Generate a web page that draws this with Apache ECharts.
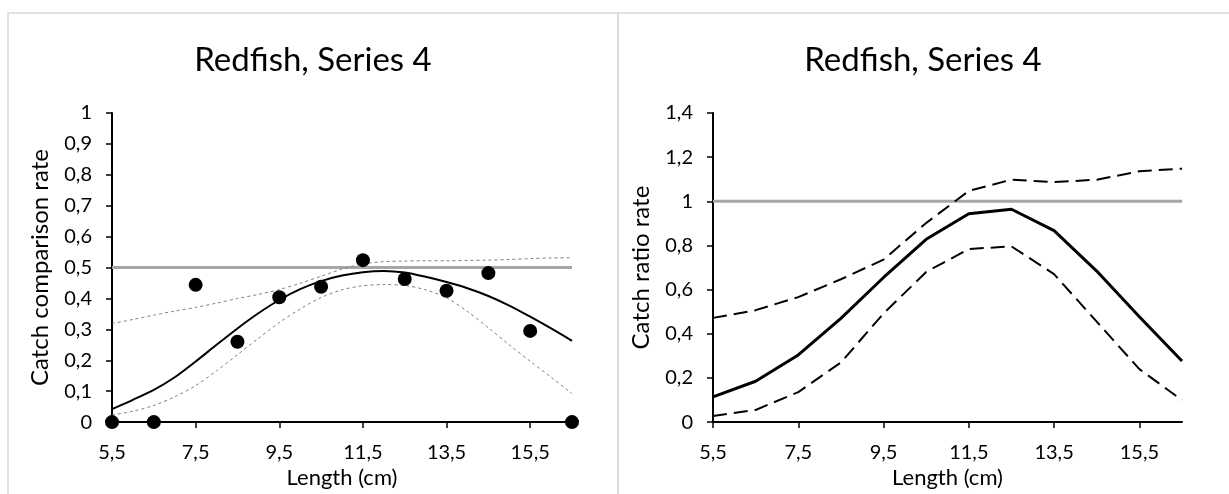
<!DOCTYPE html>
<html>
<head>
<meta charset="utf-8">
<script src="https://cdn.jsdelivr.net/npm/echarts@6/dist/echarts.min.js"></script>
<style>
  html, body { margin: 0; padding: 0; background: #ffffff; }
  #chart { width: 1229px; height: 494px; }
</style>
</head>
<body>
<div id="chart"></div>
<script>
// Left panel: fitted catch comparison curve with confidence band, on a half-cm grid
const lengthsFine = [5.5, 6.0, 6.5, 7.0, 7.5, 8.0, 8.5, 9.0, 9.5, 10.0, 10.5, 11.0,
                     11.5, 12.0, 12.5, 13.0, 13.5, 14.0, 14.5, 15.0, 15.5, 16.0, 16.5];
const fitComparison = [0.042, 0.072, 0.104, 0.145, 0.196, 0.250, 0.303, 0.352, 0.395, 0.430, 0.456, 0.474,
                       0.485, 0.489, 0.484, 0.470, 0.453, 0.433, 0.408, 0.377, 0.341, 0.303, 0.263];
const upperComparison = [0.319, 0.332, 0.346, 0.359, 0.371, 0.385, 0.400, 0.413, 0.429, 0.449, 0.472, 0.495,
                         0.512, 0.519, 0.521, 0.522, 0.522, 0.523, 0.524, 0.526, 0.529, 0.531, 0.532];
const lowerComparison = [0.023, 0.035, 0.054, 0.082, 0.118, 0.166, 0.218, 0.271, 0.322, 0.366, 0.403, 0.428,
                         0.441, 0.445, 0.442, 0.428, 0.402, 0.358, 0.305, 0.250, 0.197, 0.145, 0.092];

// Observed comparison rates and the modelled catch ratio, per 1 cm length class
const lengths = [5.5, 6.5, 7.5, 8.5, 9.5, 10.5, 11.5, 12.5, 13.5, 14.5, 15.5, 16.5];
const observedComparison = [0, 0, 0.444, 0.260, 0.404, 0.438, 0.524, 0.463, 0.425, 0.482, 0.295, 0];
const catchRatio = [0.114, 0.185, 0.304, 0.470, 0.655, 0.828, 0.944, 0.964, 0.867, 0.684, 0.477, 0.277];
const upperRatio = [0.472, 0.507, 0.566, 0.647, 0.736, 0.902, 1.047, 1.098, 1.087, 1.098, 1.136, 1.148];
const lowerRatio = [0.028, 0.055, 0.136, 0.270, 0.492, 0.680, 0.784, 0.796, 0.670, 0.455, 0.240, 0.099];

// Reference levels (equal catch) spanning the length range
const refLengths = [5.5, 16.5];
const refComparison = [0.5, 0.5];
const refRatio = [1, 1];

const xTicks = [5.5, 7.5, 9.5, 11.5, 13.5, 15.5];
const panelTitle = 'Redfish, Series 4';

const FONT = 'Lato, "Open Sans", sans-serif';
const fmt = v => String(+Number(v).toFixed(2)).replace('.', ',');
const pairs = (xs, ys) => xs.map((x, i) => [x, ys[i]]);

const chart = echarts.init(document.getElementById('chart'), null, { renderer: 'canvas' });

function xAxisDef(gridIndex) {
  return {
    gridIndex,
    type: 'value',
    min: 5.5,
    max: 16.5,
    splitLine: { show: false },
    axisLine: { show: true, onZero: false, lineStyle: { color: '#000', width: 2 } },
    axisTick: { show: true, customValues: xTicks, length: 6, lineStyle: { color: '#000', width: 1.5 } },
    axisLabel: { customValues: xTicks, formatter: fmt, fontSize: 20, color: '#000', margin: 20, fontFamily: FONT },
    name: 'Length (cm)',
    nameLocation: 'middle',
    nameGap: 36,
    nameTextStyle: { fontSize: 22, color: '#000', fontFamily: FONT }
  };
}

function yAxisDef(gridIndex, max, interval, name) {
  return {
    gridIndex,
    type: 'value',
    min: 0,
    max,
    interval,
    splitLine: { show: false },
    axisLine: { show: true, onZero: false, lineStyle: { color: '#000', width: 2 } },
    axisTick: { show: true, length: 6, lineStyle: { color: '#000', width: 1.5 } },
    axisLabel: { formatter: fmt, fontSize: 20, color: '#000', margin: 20, fontFamily: FONT },
    name,
    nameLocation: 'middle',
    nameGap: 60,
    nameRotate: 90,
    nameTextStyle: { fontSize: 24, color: '#000', fontFamily: FONT }
  };
}

const lineBase = { type: 'line', symbol: 'none', silent: true, animation: false };

const option = {
  animation: false,
  backgroundColor: '#ffffff',
  grid: [
    { left: 112, top: 113, width: 460, height: 316 },
    { left: 713, top: 113, width: 469, height: 316 }
  ],
  xAxis: [xAxisDef(0), xAxisDef(1)],
  yAxis: [
    yAxisDef(0, 1, 0.1, 'Catch comparison rate'),
    yAxisDef(1, 1.4, 0.2, 'Catch ratio rate')
  ],
  graphic: [
    { type: 'rect', shape: { x: 8, y: 13, width: 610, height: 520 }, style: { fill: 'none', stroke: '#d9d9d9', lineWidth: 1.5 }, silent: true, z: -10 },
    { type: 'rect', shape: { x: 618, y: 13, width: 640, height: 520 }, style: { fill: 'none', stroke: '#d9d9d9', lineWidth: 1.5 }, silent: true, z: -10 },
    { type: 'text', x: 313, y: 60, style: { text: panelTitle, font: '33px ' + FONT, fill: '#000', textAlign: 'center', textVerticalAlign: 'middle' }, silent: true },
    { type: 'text', x: 923, y: 60, style: { text: panelTitle, font: '33px ' + FONT, fill: '#000', textAlign: 'center', textVerticalAlign: 'middle' }, silent: true }
  ],
  series: [
    // Left panel
    Object.assign({}, lineBase, { xAxisIndex: 0, yAxisIndex: 0, z: 1, data: pairs(refLengths, refComparison),
      lineStyle: { color: '#a6a6a6', width: 3 } }),
    Object.assign({}, lineBase, { xAxisIndex: 0, yAxisIndex: 0, z: 2, smooth: 0.3, data: pairs(lengthsFine, upperComparison),
      lineStyle: { color: '#7f7f7f', width: 1, type: [3, 3] } }),
    Object.assign({}, lineBase, { xAxisIndex: 0, yAxisIndex: 0, z: 2, smooth: 0.3, data: pairs(lengthsFine, lowerComparison),
      lineStyle: { color: '#7f7f7f', width: 1, type: [3, 3] } }),
    Object.assign({}, lineBase, { xAxisIndex: 0, yAxisIndex: 0, z: 3, smooth: 0.3, data: pairs(lengthsFine, fitComparison),
      lineStyle: { color: '#000', width: 2 } }),
    { type: 'scatter', xAxisIndex: 0, yAxisIndex: 0, z: 4, clip: false, silent: true, symbol: 'circle', symbolSize: 14,
      itemStyle: { color: '#000', opacity: 1 }, data: pairs(lengths, observedComparison) },
    // Right panel
    Object.assign({}, lineBase, { xAxisIndex: 1, yAxisIndex: 1, z: 1, data: pairs(refLengths, refRatio),
      lineStyle: { color: '#a6a6a6', width: 3 } }),
    Object.assign({}, lineBase, { xAxisIndex: 1, yAxisIndex: 1, z: 2, data: pairs(lengths, upperRatio),
      lineStyle: { color: '#000', width: 2, type: [14, 7] } }),
    Object.assign({}, lineBase, { xAxisIndex: 1, yAxisIndex: 1, z: 2, data: pairs(lengths, lowerRatio),
      lineStyle: { color: '#000', width: 2, type: [14, 7] } }),
    Object.assign({}, lineBase, { xAxisIndex: 1, yAxisIndex: 1, z: 3, data: pairs(lengths, catchRatio),
      lineStyle: { color: '#000', width: 3 } })
  ]
};

chart.setOption(option);
</script>
</body>
</html>
